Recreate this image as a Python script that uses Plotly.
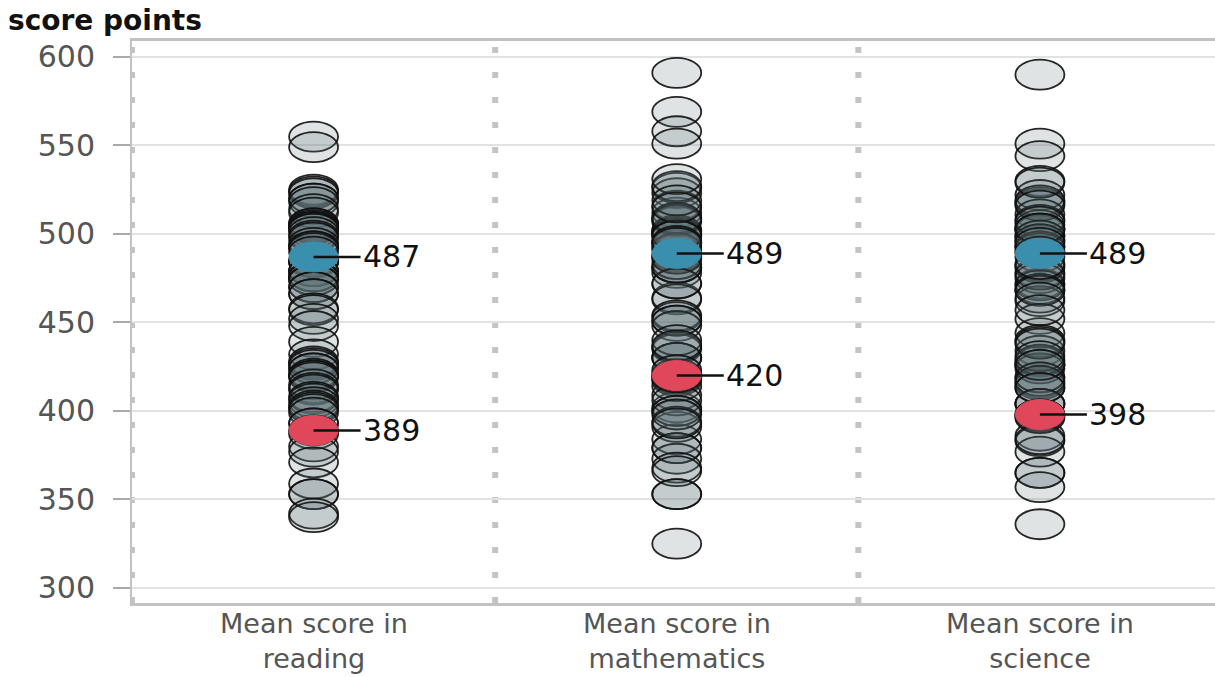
import plotly.graph_objects as go

# PISA 2018 mean scores by country/economy (reading, mathematics, science)
countries = [
    "B-S-J-Z (China)", "Singapore", "Macao (China)", "Hong Kong (China)", "Estonia",
    "Canada", "Finland", "Ireland", "Korea", "Poland", "Sweden", "New Zealand",
    "United States", "United Kingdom", "Japan", "Australia", "Chinese Taipei",
    "Denmark", "Norway", "Germany", "Slovenia", "Belgium", "France", "Portugal",
    "Czech Republic", "Netherlands", "Austria", "Switzerland", "Croatia", "Latvia",
    "Russia", "Italy", "Hungary", "Lithuania", "Iceland", "Belarus", "Israel",
    "Luxembourg", "Ukraine", "Turkey", "Slovak Republic", "Greece", "Chile", "Malta",
    "Serbia", "United Arab Emirates", "Romania", "Uruguay", "Costa Rica", "Cyprus",
    "Moldova", "Montenegro", "Mexico", "Bulgaria", "Jordan", "Malaysia", "Brazil",
    "Colombia", "Brunei Darussalam", "Qatar", "Albania", "Bosnia and Herzegovina",
    "Argentina", "Peru", "Saudi Arabia", "Thailand", "North Macedonia",
    "Baku (Azerbaijan)", "Kazakhstan", "Georgia", "Panama", "Indonesia", "Morocco",
    "Lebanon", "Kosovo", "Dominican Republic", "Philippines", "Spain",
]
reading = [
    555, 549, 525, 524, 523, 520, 520, 518, 514, 512, 506, 506, 505, 504, 504, 503,
    503, 501, 499, 498, 495, 493, 493, 492, 490, 485, 484, 484, 479, 479, 479, 476,
    476, 476, 474, 474, 470, 470, 466, 466, 458, 457, 452, 448, 439, 432, 428, 427,
    426, 424, 424, 421, 420, 420, 419, 415, 413, 412, 408, 407, 405, 403, 402, 401,
    399, 393, 393, 389, 387, 380, 377, 371, 359, 353, 353, 342, 340, None,
]
mathematics = [
    591, 569, 558, 551, 523, 512, 507, 500, 526, 516, 502, 494, 478, 502, 527, 491,
    531, 509, 501, 500, 509, 508, 495, 492, 499, 519, 499, 515, 464, 496, 488, 487,
    481, 481, 495, 472, 463, 483, 453, 454, 486, 451, 417, 472, 448, 435, 430, 418,
    402, 451, 421, 430, 409, 436, 400, 440, 384, 391, 430, 414, 437, 406, 379, 400,
    373, 419, 394, 420, 423, 398, 353, 379, 368, 393, 366, 325, 353, 481,
]
science = [
    590, 551, 544, 517, 530, 518, 522, 496, 519, 511, 499, 508, 502, 505, 529, 503,
    516, 493, 490, 503, 507, 499, 493, 492, 497, 503, 490, 495, 472, 487, 478, 468,
    481, 482, 475, 471, 462, 477, 469, 468, 464, 452, 444, 457, 440, 434, 426, 426,
    416, 439, 428, 415, 419, 424, 429, 438, 404, 413, 431, 419, 417, 398, 404, 404,
    386, 426, 413, 398, 397, 383, 365, 396, 377, 384, 365, 336, 357, 483,
]

category_labels = ["Mean score in<br>reading", "Mean score in<br>mathematics",
                   "Mean score in<br>science"]
oecd_average = [487, 489, 489]
highlight = [389, 420, 398]  # Baku (Azerbaijan)

y_range = [291.5, 609]
y_ticks = [300, 350, 400, 450, 500, 550, 600]

GREY_FILL = "rgba(95,115,120,0.20)"
GREY_LINE = "rgba(15,15,15,0.9)"
BLUE = "#3a8fae"
RED = "#e0475b"
SEP = "#c4c4c4"
TEXT_GREY = "#555555"
FONT = "DejaVu Sans"

W, H = 1215, 677
margin = dict(l=132, r=0, t=41, b=74)

fig = go.Figure()
# invisible trace so the axes exist
fig.add_trace(go.Scatter(x=[0, 1, 2], y=[450, 450, 450], mode="markers",
                         marker=dict(opacity=0), hoverinfo="skip", showlegend=False))

shapes = []


def ellipse(cx, cy, fill, line_color, lw):
    return dict(type="circle", xref="x", yref="y",
                xsizemode="pixel", ysizemode="pixel",
                xanchor=cx, yanchor=cy,
                x0=-24.5, x1=24.5, y0=-15, y1=15,
                fillcolor=fill, line=dict(color=line_color, width=lw),
                layer="above")


# dotted separators between subjects (and on the left edge)
for xs in [-0.5, 0.5, 1.5]:
    shapes.append(dict(type="line", xref="x", yref="paper", x0=xs, x1=xs, y0=0, y1=1,
                       line=dict(color=SEP, width=6, dash="6px,19px"), layer="below"))

for i, values in enumerate([reading, mathematics, science]):
    for v in values:
        if v is None:
            continue
        shapes.append(ellipse(i, v, GREY_FILL, GREY_LINE, 1.8))

for i in range(3):
    shapes.append(ellipse(i, oecd_average[i], BLUE, BLUE, 1))
    shapes.append(ellipse(i, highlight[i], RED, RED, 1))

annotations = []
for i in range(3):
    for v in (oecd_average[i], highlight[i]):
        annotations.append(dict(
            x=i, y=v, xref="x", yref="y", text=str(v),
            showarrow=True, arrowhead=0, arrowwidth=2.5, arrowcolor="#111111",
            ax=47, ay=0, xanchor="left", yanchor="middle",
            font=dict(family=FONT, size=30, color="#111111"),
        ))

# category labels under each column
plot_h = H - margin["t"] - margin["b"]
for i in range(3):
    annotations.append(dict(
        x=i, y=(H - margin["b"] - 676) / plot_h, xref="x", yref="paper",
        text=category_labels[i], showarrow=False, xanchor="center", yanchor="bottom",
        font=dict(family=FONT, size=27, color=TEXT_GREY),
    ))

# axis title in the top-left corner
plot_w = W - margin["l"] - margin["r"]
annotations.append(dict(
    x=(6 - margin["l"]) / plot_w, y=1 + (41 - 21) / plot_h, xref="paper", yref="paper",
    text="<b>score points</b>", showarrow=False, xanchor="left", yanchor="middle",
    font=dict(family=FONT, size=28, color="#111111"),
))

x_right = 2.5 - 6.5 / 363.0

fig.update_layout(
    width=W, height=H, margin=margin,
    paper_bgcolor="white", plot_bgcolor="white",
    shapes=shapes, annotations=annotations, showlegend=False,
    xaxis=dict(range=[-0.5, x_right], tickvals=[0, 1, 2], showticklabels=False,
               showgrid=False, zeroline=False, showline=True, linecolor="#c2c2c2",
               linewidth=2.5, mirror=True, ticks=""),
    yaxis=dict(range=y_range, tickvals=y_ticks, showgrid=True, gridcolor="#e2e2e2",
               gridwidth=1.5, zeroline=False, showline=True, linecolor="#c2c2c2",
               linewidth=2, ticks="outside", ticklen=17, tickcolor="#aaaaaa",
               tickwidth=1.5, ticklabelstandoff=12,
               tickfont=dict(family=FONT, size=30, color=TEXT_GREY)),
)

fig.write_html("out.html")
